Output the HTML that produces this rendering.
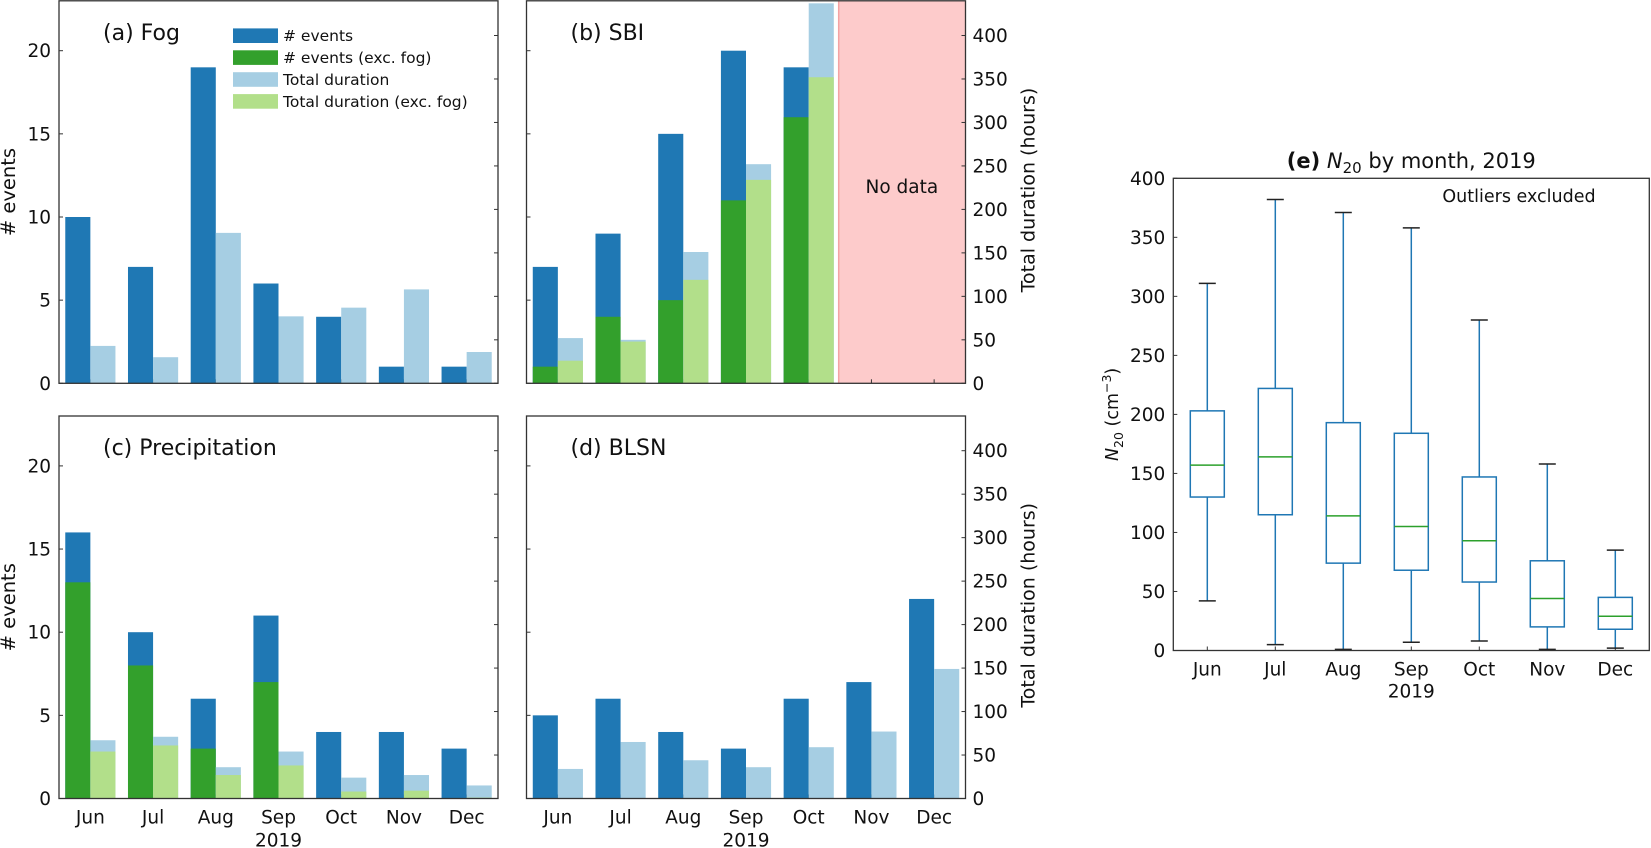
<!DOCTYPE html>
<html><head><meta charset="utf-8"><style>
html,body{margin:0;padding:0;background:#fff;}
svg{display:block;font-family:"DejaVu Sans","Liberation Sans",sans-serif;}
</style></head><body>
<svg id="fig" width="1651" height="848" viewBox="0 0 1651 848" xmlns="http://www.w3.org/2000/svg"></svg>
<script>
const months=['Jun','Jul','Aug','Sep','Oct','Nov','Dec'];
const fogEvents=[10,7,19,6,4,1,1];
const fogHours=[43,30,173,77,87,108,36];
const sbiEvents=[7,9,15,20,19];
const sbiEventsExc=[1,4,5,11,16];
const sbiHours=[52,50,151,252,437];
const sbiHoursExc=[26,48,119,234,352];
const precipEvents=[16,10,6,11,4,4,3];
const precipEventsExc=[13,8,3,7,0,0,0];
const precipHours=[67,71,36,54,24,27,15];
const precipHoursExc=[54,61,27,38,8,9,1];
const blsnEvents=[5,6,4,3,6,7,12];
const blsnHours=[34,65,44,36,59,77,149];
const eventTicks=[0,5,10,15,20];
const hourTicks=[0,50,100,150,200,250,300,350,400];
const boxLo=[42,5,1,7,8,1,2];
const boxQ1=[130,115,74,68,58,20,18];
const boxMed=[157,164,114,105,93,44,29];
const boxQ3=[203,222,193,184,147,76,45];
const boxHi=[311,382,371,358,280,158,85];
const n20Ticks=[0,50,100,150,200,250,300,350,400];

const NS='http://www.w3.org/2000/svg';
const svg=document.getElementById('fig');
function mk(tag,attrs,parent,text){
  const e=document.createElementNS(NS,tag);
  for(const k in attrs)e.setAttribute(k,attrs[k]);
  if(text!==undefined)e.textContent=text;
  (parent||svg).appendChild(e);return e;
}
const C_DB='#1f78b4',C_LB='#a6cee3',C_DG='#33a02c',C_LG='#b2df8a';
const FS=18.5;

function panel(o){
  const g=mk('g',{});
  
  
  const L=o.x,T=o.y,W=439,H=382.5;
  const B=T+H, sp=W/7;
  const yE=v=>B-v*16.63;
  const yH=v=>B-v*0.8695;
  const xc=i=>L+(i+0.5)*sp;
  if(o.noData){
    const px=xc(4)+0.47*sp;
    const r=mk('rect',{x:px,y:T,width:L+W-px,height:H,fill:'#fdcbcb'},g);
    
    
    mk('line',{x1:px+0.5,y1:T,x2:px+0.5,y2:B,stroke:'#f4a3a3','stroke-width':1.5},g);
    const t=mk('text',{x:(px+L+W)/2,y:T+192,'font-size':FS,'text-anchor':'middle',fill:'#111'},g,'No data');
    
    
  }
  months.forEach((m,i)=>{mk('line',{x1:xc(i),y1:B,x2:xc(i),y2:B-4,stroke:'#333','stroke-width':1},g);});
  const n=o.ev.length;
  for(let i=0;i<n;i++){
    const c=xc(i),bw=0.4*sp;
    const b1=mk('rect',{x:c-bw,y:yE(o.ev[i]),width:bw,height:B-yE(o.ev[i]),fill:C_DB},g);
    
    
    if(o.evx){
      const b2=mk('rect',{x:c-bw,y:yE(o.evx[i]),width:bw,height:B-yE(o.evx[i]),fill:C_DG},g);
      
      
    }
    const b3=mk('rect',{x:c,y:yH(o.hr[i]),width:bw,height:B-yH(o.hr[i]),fill:C_LB},g);
    
    
    if(o.hrx){
      const b4=mk('rect',{x:c,y:yH(o.hrx[i]),width:bw,height:B-yH(o.hrx[i]),fill:C_LG},g);
      
      
    }
  }
  eventTicks.forEach(v=>{
    mk('line',{x1:L,y1:yE(v),x2:L+4,y2:yE(v),stroke:'#333','stroke-width':1},g);
    if(o.leftLabels){mk('text',{x:L-8,y:yE(v)+6.5,'font-size':FS,'text-anchor':'end',fill:'#111'},g,String(v));}
  });
  hourTicks.forEach(v=>{
    mk('line',{x1:L+W,y1:yH(v),x2:L+W-4,y2:yH(v),stroke:'#333','stroke-width':1},g);
    if(o.rightLabels){mk('text',{x:L+W+7,y:yH(v)+6.5,'font-size':FS,'text-anchor':'start',fill:'#111'},g,String(v));}
  });
  const fr=mk('rect',{x:L,y:T,width:W,height:H,fill:'none',stroke:'#333','stroke-width':1.3},g);
  
  
  const tt=mk('text',{x:L+44,y:T+39,'font-size':22,fill:'#111'},g,o.title);
  
  
  if(o.leftLabels){
    const yl=mk('text',{x:0,y:0,'font-size':19.5,'text-anchor':'middle',fill:'#111',transform:`translate(${L-44},${T+H/2}) rotate(-90)`},g,'# events');
    
    
  }
  if(o.rightLabels){
    const yr=mk('text',{x:0,y:0,'font-size':19,'text-anchor':'middle',fill:'#111',transform:`translate(${L+W+69},${T+H/2-2}) rotate(-90)`},g,'Total duration (hours)');
    
    
  }
  if(o.xLabels){
    months.forEach((m,i)=>{
      const t=mk('text',{x:xc(i),y:B+25,'font-size':FS,'text-anchor':'middle',fill:'#111'},g,m);
      
      
    });
    mk('text',{x:xc(3),y:B+48,'font-size':FS,'text-anchor':'middle',fill:'#111'},g,'2019');
  }
  return {g,L,T};
}

panel({name:'panel-a-fog',x:59,y:0.8,title:'(a) Fog',ev:fogEvents,hr:fogHours,leftLabels:true});
panel({name:'panel-b-sbi',x:526.5,y:0.8,title:'(b) SBI',ev:sbiEvents,evx:sbiEventsExc,hr:sbiHours,hrx:sbiHoursExc,rightLabels:true,noData:true});
panel({name:'panel-c-precipitation',x:59,y:416,title:'(c) Precipitation',ev:precipEvents,evx:precipEventsExc,hr:precipHours,hrx:precipHoursExc,leftLabels:true,xLabels:true});
panel({name:'panel-d-blsn',x:526.5,y:416,title:'(d) BLSN',ev:blsnEvents,hr:blsnHours,rightLabels:true,xLabels:true});

const leg=mk('g',{});


[['# events',C_DB],['# events (exc. fog)',C_DG],['Total duration',C_LB],['Total duration (exc. fog)',C_LG]].forEach((e,i)=>{
  const cy=35.7+i*21.9;
  const r=mk('rect',{x:233,y:cy-7.3,width:45,height:14.6,fill:e[1]},leg);
  
  
  const t=mk('text',{x:283,y:cy+5.5,'font-size':15.5,fill:'#111'},leg,e[0]);
  
  
});

(function(){
  const g=mk('g',{});
  
  
  const L=1173.3,R=1649.3,T=178.3,B=650.5;
  const sp=(R-L)/7;
  const y=v=>B-v*(B-T)/400;
  const xc=i=>L+(i+0.5)*sp;
  n20Ticks.forEach(v=>{
    mk('line',{x1:L,y1:y(v),x2:L+4,y2:y(v),stroke:'#333','stroke-width':1},g);
    mk('text',{x:L-8,y:y(v)+6.5,'font-size':FS,'text-anchor':'end',fill:'#111'},g,String(v));
  });
  months.forEach((m,i)=>{
    mk('line',{x1:xc(i),y1:B,x2:xc(i),y2:B-4,stroke:'#333','stroke-width':1},g);
    const t=mk('text',{x:xc(i),y:B+25,'font-size':FS,'text-anchor':'middle',fill:'#111'},g,m);
    
    
  });
  mk('text',{x:xc(3),y:B+47,'font-size':FS,'text-anchor':'middle',fill:'#111'},g,'2019');
  const bw=sp*0.5,cw=sp*0.25;
  for(let i=0;i<boxMed.length;i++){
    const c=xc(i);
    const bg=mk('g',{},g);
    
    
    mk('line',{x1:c,y1:y(boxQ3[i]),x2:c,y2:y(boxHi[i]),stroke:'#1f77b4','stroke-width':1.5},bg);
    mk('line',{x1:c,y1:y(boxQ1[i]),x2:c,y2:y(boxLo[i]),stroke:'#1f77b4','stroke-width':1.5},bg);
    mk('line',{x1:c-cw/2,y1:y(boxHi[i]),x2:c+cw/2,y2:y(boxHi[i]),stroke:'#222','stroke-width':1.5},bg);
    mk('line',{x1:c-cw/2,y1:y(boxLo[i]),x2:c+cw/2,y2:y(boxLo[i]),stroke:'#222','stroke-width':1.5},bg);
    mk('rect',{x:c-bw/2,y:y(boxQ3[i]),width:bw,height:y(boxQ1[i])-y(boxQ3[i]),fill:'none',stroke:'#1f77b4','stroke-width':1.5},bg);
    mk('line',{x1:c-bw/2,y1:y(boxMed[i]),x2:c+bw/2,y2:y(boxMed[i]),stroke:'#2ca02c','stroke-width':1.5},bg);
  }
  const fr=mk('rect',{x:L,y:T,width:R-L,height:B-T,fill:'none',stroke:'#333','stroke-width':1.3},g);
  
  
  const t=mk('text',{x:(L+R)/2,y:168,'font-size':21,'text-anchor':'middle',fill:'#111'},g);
  
  
  mk('tspan',{'font-weight':'bold'},t,'(e)');
  mk('tspan',{},t,'  ');
  mk('tspan',{'font-style':'italic'},t,'N');
  mk('tspan',{'font-size':15,dy:5},t,'20');
  mk('tspan',{dy:-5},t,' by month, 2019');
  const ol=mk('text',{x:1519,y:202,'font-size':17.5,'text-anchor':'middle',fill:'#111'},g,'Outliers excluded');
  
  
  const yl=mk('text',{x:0,y:0,'font-size':17.5,'text-anchor':'middle',fill:'#111',transform:`translate(1118,${(T+B)/2}) rotate(-90)`},g);
  
  
  mk('tspan',{'font-style':'italic'},yl,'N');
  mk('tspan',{'font-size':12.5,dy:5},yl,'20');
  mk('tspan',{dy:-5},yl,' (cm');
  mk('tspan',{'font-size':12.5,dy:-7},yl,'−3');
  mk('tspan',{dy:7},yl,')');
})();
</script>
</body></html>
